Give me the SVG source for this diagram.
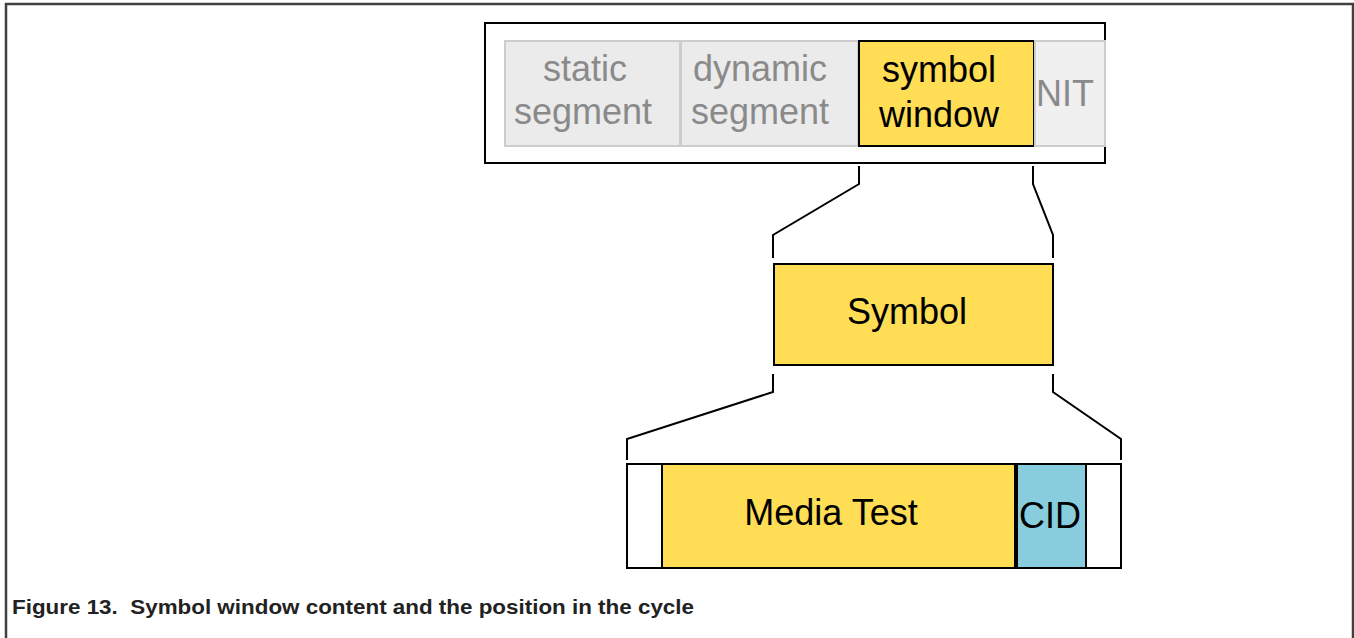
<svg xmlns="http://www.w3.org/2000/svg" width="1354" height="638" viewBox="0 0 1354 638">
<style>
.t{font-family:"Liberation Sans",Arial,sans-serif;text-anchor:middle;font-size:36px}
.g{fill:#8a8a8a}
.k{fill:#000}
.seg{fill:#ebebeb;stroke:#cccccc;stroke-width:2}
.box{stroke:#000;stroke-width:2}
.y{fill:#ffdd55}
.c{fill:none;stroke:#000;stroke-width:2}
</style>
<rect width="1354" height="638" fill="#fff"/>
<path d="M6,638 V4 H1353 V638" fill="none" stroke="#404040" stroke-width="2.5"/>
<g id="cycle">
<rect x="485" y="23" width="620" height="140" fill="#fff" class="box"/>
</g>
<g id="static">
<rect x="505" y="41" width="175" height="105" class="seg"/>
<text class="t g" x="585" y="81">static</text>
<text class="t g" x="583" y="124">segment</text>
</g>
<g id="dynamic">
<rect x="681" y="41" width="177" height="105" class="seg"/>
<text class="t g" x="760" y="81">dynamic</text>
<text class="t g" x="760" y="124">segment</text>
</g>
<g id="symwin">
<rect x="859" y="41" width="175" height="105" class="y box"/>
<text class="t k" x="939" y="82">symbol</text>
<text class="t k" x="939" y="127">window</text>
</g>
<g id="nit">
<rect x="1035" y="41" width="70" height="105" fill="#f0f0f0" stroke="#cccccc" stroke-width="2"/>
<text class="t g" x="1065" y="106">NIT</text>
</g>
<g id="connectors">
<path class="c" d="M859,166 V184 L773,235 V258"/>
<path class="c" d="M1033,166 V184 L1053,235 V258"/>
<path class="c" d="M773,374 V392 L627,439 V460"/>
<path class="c" d="M1053,374 V392 L1121,439 V460"/>
</g>
<g id="symbol">
<rect x="774" y="264" width="279" height="101" class="y box"/>
<text class="t k" x="907" y="324">Symbol</text>
</g>
<g id="frame">
<rect x="627" y="464" width="494" height="104" fill="#fff" class="box"/>
</g>
<g id="mediatest">
<rect x="662" y="464" width="353" height="104" class="y box"/>
<text class="t k" x="831" y="525">Media Test</text>
</g>
<g id="cid">
<rect x="1017" y="464" width="69" height="104" fill="#87cddd" class="box"/>
<text class="t k" x="1050" y="528">CID</text>
</g>
<text x="12" y="614" style="font-family:'Liberation Sans',Arial,sans-serif;font-size:21px;fill:#222;font-weight:bold" textLength="682" lengthAdjust="spacingAndGlyphs">Figure 13.&#160; Symbol window content and the position in the cycle</text>
</svg>
